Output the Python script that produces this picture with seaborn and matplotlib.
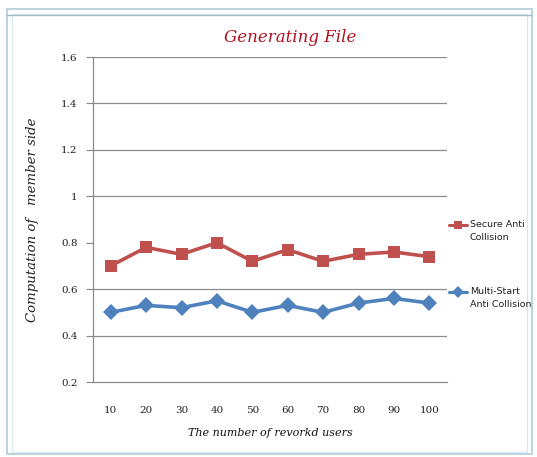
import matplotlib
matplotlib.use("Agg")
import matplotlib.pyplot as plt
import seaborn as sns
import pandas as pd
from matplotlib.patches import Rectangle
from matplotlib.lines import Line2D

users = ["10", "20", "30", "40", "50", "60", "70", "80", "90", "100"]
secure_anti = [0.70, 0.78, 0.75, 0.80, 0.72, 0.77, 0.72, 0.75, 0.76, 0.74]
multi_start = [0.50, 0.53, 0.52, 0.55, 0.50, 0.53, 0.50, 0.54, 0.56, 0.54]
series_names = ["Secure Anti\nCollision", "Multi-Start\nAnti Collision"]
y_ticks = [0.2, 0.4, 0.6, 0.8, 1.0, 1.2, 1.4, 1.6]
y_tick_labels = ["0.2", "0.4", "0.6", "0.8", "1", "1.2", "1.4", "1.6"]

df = pd.DataFrame({
    "users": users * 2,
    "value": secure_anti + multi_start,
    "series": [series_names[0]] * len(users) + [series_names[1]] * len(users),
})

sns.set_style("white")
fig = plt.figure(figsize=(5.37, 4.57), dpi=100)
ax = fig.add_axes([93/537, 1 - 382/457, (447-93)/537, (382-57)/457])

red = "#c0504d"
blue = "#4f81bd"
sns.lineplot(data=df, x="users", y="value", hue="series", style="series",
             markers={series_names[0]: "s", series_names[1]: "D"},
             dashes=False, palette={series_names[0]: red, series_names[1]: blue},
             linewidth=2.6, markersize=8, markeredgewidth=0, sort=False,
             legend=False, ax=ax)

ax.set_xlim(-0.5, len(users) - 0.5)
ax.set_ylim(0.2, 1.6)
ax.set_yticks(y_ticks)
ax.set_yticklabels(y_tick_labels, family="DejaVu Serif", fontsize=7.5, color="#222222")
ax.set_xticks(range(len(users)))
ax.set_xticklabels(users, family="DejaVu Serif", fontsize=7.5, color="#222222")
ax.tick_params(axis="x", length=0, pad=17)
ax.tick_params(axis="y", length=5, width=0.8, color="#888888", pad=6, direction="out", left=True)

for yv in y_ticks[1:]:
    if abs(yv - 0.8) < 1e-9:
        continue
    ax.axhline(yv, color="#8c8c8c", linewidth=0.9, zorder=0)

for s in ["top", "right"]:
    ax.spines[s].set_visible(False)
ax.spines["left"].set_color("#8c8c8c")
ax.spines["bottom"].set_color("#8c8c8c")
ax.spines["left"].set_linewidth(0.9)
ax.spines["bottom"].set_linewidth(0.9)

ax.set_xlabel("The number of revorkd users", family="DejaVu Serif", style="italic",
              fontsize=8, labelpad=10, color="#111111")
ax.set_ylabel("Computation of   member side", family="DejaVu Serif", style="italic",
              fontsize=9.5, labelpad=16, color="#222222")

fig.text(290/537, 1 - 38/457, "Generating File", family="DejaVu Serif", style="italic",
         fontsize=12, color="#b01020", ha="center", va="center")

# legend drawn manually at the right
for name, col, mk, yc in [(series_names[0], red, "s", 225), (series_names[1], blue, "D", 292)]:
    fig.add_artist(Line2D([449/537, 467/537], [1 - yc/457, 1 - yc/457], color=col,
                          linewidth=2.2, transform=fig.transFigure))
    fig.add_artist(Line2D([458/537], [1 - yc/457], color=col, marker=mk, markersize=6,
                          markeredgewidth=0, linestyle="none", transform=fig.transFigure))
    fig.text(470/537, 1 - (yc - 5)/457, name, fontsize=6.8, color="#222222",
             ha="left", va="top", linespacing=1.6, family="DejaVu Sans")

# chart frame
fig.add_artist(Rectangle((7/537, 3/457), 525/537, (448-3)/457, transform=fig.transFigure,
                         fill=False, edgecolor="#bcd4dc", linewidth=1.5))
fig.add_artist(Rectangle((12/537, 5/457), 515/537, (443-5)/457, transform=fig.transFigure,
                         fill=False, edgecolor="#d8e8ec", linewidth=1.0))
fig.add_artist(Line2D([7/537, 532/537], [1 - 15/457, 1 - 15/457], color="#a8bcc4",
                      linewidth=1.0, transform=fig.transFigure))

fig.savefig("out.png", dpi=100)
